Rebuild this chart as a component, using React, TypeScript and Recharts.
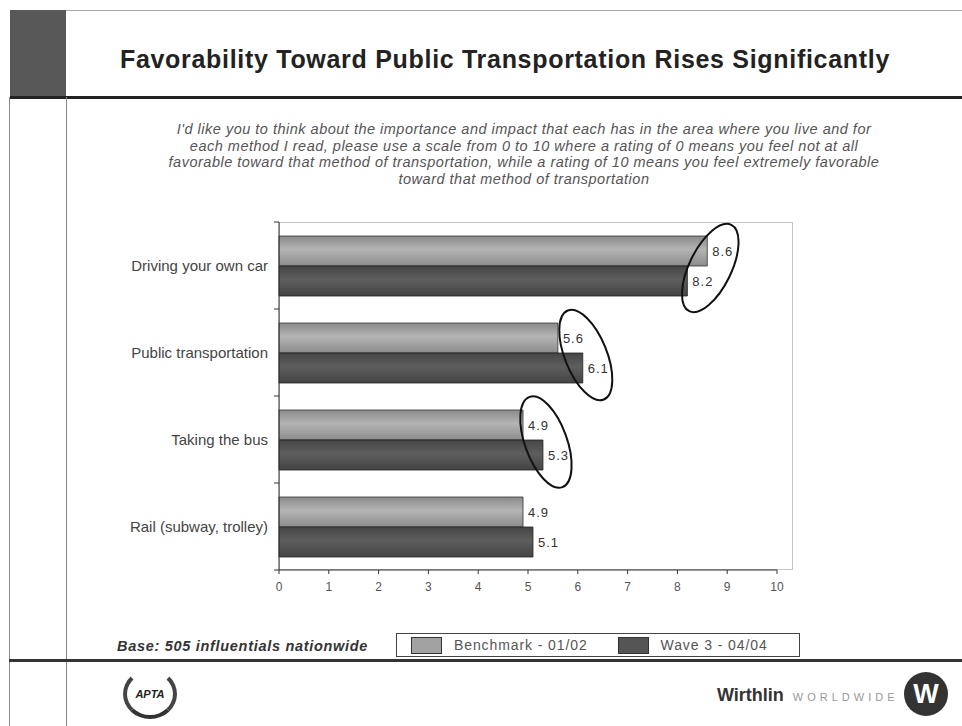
import { Bar, BarChart, LabelList, XAxis, YAxis } from 'recharts';

// survey results, 0-10 favourability
const CATEGORIES = ['Driving your own car', 'Public transportation', 'Taking the bus', 'Rail (subway, trolley)'];
const BENCHMARK = [8.6, 5.6, 4.9, 4.9];
const WAVE3 = [8.2, 6.1, 5.3, 5.1];
const CIRCLED = [true, true, true, false];
const RING_TILT = [26, -22, -20, 0];
const X_TICKS = [0, 1, 2, 3, 4, 5, 6, 7, 8, 9, 10];

const SERIES = [
  { key: 'benchmark', name: 'Benchmark - 01/02', fill: 'url(#gradLight)', swatch: '#a2a2a2' },
  { key: 'wave3', name: 'Wave 3 - 04/04', fill: 'url(#gradDark)', swatch: '#555555' },
] as const;

const QUESTION = [
  "I'd like you to think about the importance and impact that each has in the area where you live and for",
  'each method I read, please use a scale from 0 to 10 where a rating of 0 means you feel not at all',
  'favorable toward that method of transportation, while a rating of 10 means you feel extremely favorable',
  'toward that method of transportation',
];

const rows = CATEGORIES.map((name, i) => ({ name, benchmark: BENCHMARK[i], wave3: WAVE3[i] }));

const FONT = 'Arial, "Liberation Sans", sans-serif';
const PLOT_TOP = 222;
const PLOT_BOTTOM = 570;
const BAND = (PLOT_BOTTOM - PLOT_TOP) / CATEGORIES.length;

function CategoryTick(props: any) {
  const { x, y, payload, index } = props;
  const axisX = x + 8;
  return (
    <g>
      <line x1={axisX - 5} x2={axisX} y1={y - BAND / 2} y2={y - BAND / 2} stroke="#333" />
      {index === CATEGORIES.length - 1 && (
        <line x1={axisX - 5} x2={axisX} y1={y + BAND / 2} y2={y + BAND / 2} stroke="#333" />
      )}
      <text x={x - 3} y={y} dy={5} textAnchor="end" fontSize={15} fill="#444" fontFamily={FONT}>
        {payload.value}
      </text>
    </g>
  );
}

function ValueLabel(props: any) {
  const { x, y, width, height, value } = props;
  return (
    <text x={x + width + 5} y={y + height / 2} dy={5} fontSize={13} letterSpacing={1} fill="#333" fontFamily={FONT}>
      {Number(value).toFixed(1)}
    </text>
  );
}

// dark bar label; also rings the pair of values for highlighted rows
function WaveLabel(props: any) {
  const { x, y, width, index } = props;
  const end = x + width;
  const benchEnd = x + (width * BENCHMARK[index]) / WAVE3[index];
  const cx = Math.max(end, benchEnd) + 3;
  const cy = y + 2;
  return (
    <g>
      <ValueLabel {...props} />
      {CIRCLED[index] && (
        <ellipse
          cx={cx}
          cy={cy}
          rx={21}
          ry={48}
          transform={`rotate(${RING_TILT[index]} ${cx} ${cy})`}
          fill="none"
          stroke="#111"
          strokeWidth={2}
        />
      )}
    </g>
  );
}

export default function App() {
  return (
    <div style={{ position: 'absolute', left: 0, top: 0, width: 962, height: 726, background: '#fff', fontFamily: FONT, overflow: 'hidden' }}>
      {/* slide frame */}
      <div style={{ position: 'absolute', left: 10, top: 10, width: 56, height: 87, background: '#585858' }} />
      <div style={{ position: 'absolute', left: 66, top: 10, width: 896, height: 1, background: '#aaa' }} />
      <div style={{ position: 'absolute', left: 10, top: 96, width: 952, height: 3, background: '#222' }} />
      <div style={{ position: 'absolute', left: 9, top: 97, width: 1, height: 629, background: '#888' }} />
      <div style={{ position: 'absolute', left: 66, top: 97, width: 1, height: 629, background: '#888' }} />
      <div style={{ position: 'absolute', left: 9, top: 659, width: 953, height: 3, background: '#333' }} />

      <div style={{ position: 'absolute', left: 0, top: 45, width: 1010, textAlign: 'center', fontSize: 25, letterSpacing: 0.7, fontWeight: 'bold', color: '#222' }}>
        Favorability Toward Public Transportation Rises Significantly
      </div>

      <div style={{ position: 'absolute', left: 74, top: 121, width: 900, textAlign: 'center', fontSize: 14.5, letterSpacing: 0.5, fontStyle: 'italic', color: '#555', lineHeight: '16.5px' }}>
        {QUESTION.map((l, i) => (
          <div key={i}>{l}</div>
        ))}
      </div>

      {/* plot border */}
      <div style={{ position: 'absolute', left: 279, top: PLOT_TOP, width: 514, height: PLOT_BOTTOM - PLOT_TOP, border: '1px solid #c4c4c4', boxSizing: 'border-box' }} />

      <div style={{ position: 'absolute', left: 0, top: 0 }}>
        <BarChart
          width={962}
          height={726}
          data={rows}
          layout="vertical"
          barGap={0}
          margin={{ top: PLOT_TOP, right: 185, left: 99, bottom: 126 }}
        >
          <defs>
            <linearGradient id="gradLight" x1="0" y1="0" x2="0" y2="1">
              <stop offset="0%" stopColor="#8a8a8a" />
              <stop offset="45%" stopColor="#b4b4b4" />
              <stop offset="100%" stopColor="#8c8c8c" />
            </linearGradient>
            <linearGradient id="gradDark" x1="0" y1="0" x2="0" y2="1">
              <stop offset="0%" stopColor="#454545" />
              <stop offset="45%" stopColor="#5e5e5e" />
              <stop offset="100%" stopColor="#444444" />
            </linearGradient>
          </defs>
          <XAxis
            type="number"
            domain={[0, 10]}
            ticks={X_TICKS}
            height={30}
            axisLine={{ stroke: '#333' }}
            tickLine={{ stroke: '#333' }}
            tickSize={4}
            tickMargin={8}
            tick={{ fill: '#555', fontSize: 12, fontFamily: FONT }}
          />
          <YAxis
            type="category"
            dataKey="name"
            width={180}
            axisLine={{ stroke: '#333' }}
            tickLine={false}
            tick={<CategoryTick />}
          />
          <Bar dataKey="benchmark" name={SERIES[0].name} fill={SERIES[0].fill} stroke="#333" strokeWidth={0.8} barSize={30} isAnimationActive={false}>
            <LabelList dataKey="benchmark" content={<ValueLabel />} />
          </Bar>
          <Bar dataKey="wave3" name={SERIES[1].name} fill={SERIES[1].fill} stroke="#222" strokeWidth={0.8} barSize={30} isAnimationActive={false}>
            <LabelList dataKey="wave3" content={<WaveLabel />} />
          </Bar>
        </BarChart>
      </div>

      <div style={{ position: 'absolute', left: 117, top: 638, fontSize: 14.5, letterSpacing: 0.7, fontWeight: 'bold', fontStyle: 'italic', color: '#333' }}>
        Base: 505 influentials nationwide
      </div>

      {/* legend */}
      <div style={{ position: 'absolute', left: 396, top: 633, width: 404, height: 24, border: '1px solid #444', boxSizing: 'border-box', display: 'flex', alignItems: 'center', fontSize: 14, letterSpacing: 0.9, color: '#555' }}>
        {SERIES.map((s, i) => (
          <div key={s.key} style={{ display: 'flex', alignItems: 'center', marginLeft: i === 0 ? 14 : 30 }}>
            <div style={{ width: 29, height: 15, background: s.swatch, border: '1px solid #333', marginRight: 12 }} />
            <span>{s.name}</span>
          </div>
        ))}
      </div>

      {/* footer logos */}
      <div style={{ position: 'absolute', left: 123, top: 669, width: 54, height: 50, borderRadius: '50%', border: '4px solid #444', borderTopColor: 'transparent', borderBottomColor: '#333', boxSizing: 'border-box', display: 'flex', alignItems: 'center', justifyContent: 'center', fontSize: 11, fontWeight: 'bold', fontStyle: 'italic', color: '#222' }}>
        APTA
      </div>
      <div style={{ position: 'absolute', left: 717, top: 685, display: 'flex', alignItems: 'baseline', whiteSpace: 'nowrap' }}>
        <span style={{ fontSize: 18, fontWeight: 'bold', color: '#333' }}>Wirthlin</span>
        <span style={{ fontSize: 11, color: '#999', letterSpacing: 4, marginLeft: 9 }}>WORLDWIDE</span>
      </div>
      <div style={{ position: 'absolute', left: 904, top: 672, width: 44, height: 44, borderRadius: '50%', background: '#333', color: '#fff', display: 'flex', alignItems: 'center', justifyContent: 'center', fontSize: 27, fontWeight: 'bold' }}>
        W
      </div>
    </div>
  );
}
